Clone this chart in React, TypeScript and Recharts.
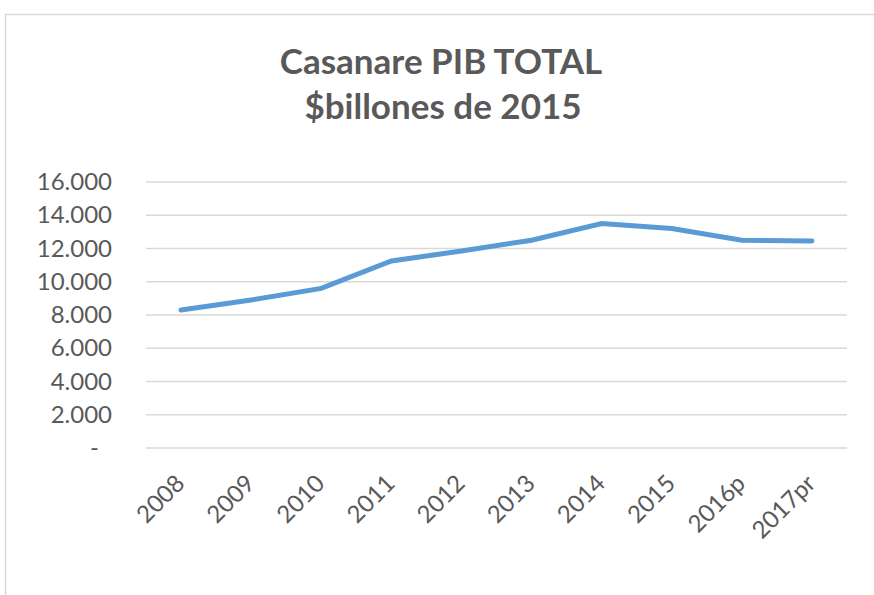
import React from "react";
import { LineChart, Line, XAxis, YAxis, CartesianGrid } from "recharts";

const categories = ["2008", "2009", "2010", "2011", "2012", "2013", "2014", "2015", "2016p", "2017pr"];
const pib = [8300, 8900, 9600, 11250, 11850, 12500, 13500, 13200, 12500, 12450];
const yTicks = [0, 2000, 4000, 6000, 8000, 10000, 12000, 14000, 16000];
const titleLines = ["Casanare PIB TOTAL", "$billones de 2015"];

const data = categories.map((c, i) => ({ year: c, value: pib[i] }));

const FONT = "Lato, 'Open Sans', sans-serif";
const TXT = "#595959";

const fmt = (v: number) => {
  if (v === 0) return "-";
  return String(v).replace(/\B(?=(\d{3})+(?!\d))/g, ".");
};

const YTick = (props: any) => {
  const { x, y, payload } = props;
  const isZero = payload.value === 0;
  return (
    <text x={isZero ? x - 13 : x} y={y} dy={8} textAnchor="end" fill={TXT} fontSize={24} fontFamily={FONT}>
      {fmt(payload.value)}
    </text>
  );
};

const XTick = (props: any) => {
  const { x, y, payload } = props;
  const bx = x + 5;
  const by = y + 37;
  return (
    <text x={bx} y={by} textAnchor="end" fill={TXT} fontSize={24} fontFamily={FONT} transform={`rotate(-45, ${bx}, ${by})`}>
      {payload.value}
    </text>
  );
};

export default function App() {
  return (
    <div style={{ position: "fixed", left: 0, top: 0, width: 874, height: 595, background: "#fff", overflow: "hidden" }}>
      <LineChart width={874} height={595} data={data} margin={{ top: 182, right: 27, bottom: 0, left: 0 }}>
        <path d="M5.5,600 V14.5 H880" fill="none" stroke="#d9d9d9" strokeWidth={1.5} />
        <text x={441} y={74} textAnchor="middle" fill={TXT} fontSize={35} fontWeight={700} fontFamily={FONT}>
          {titleLines[0]}
        </text>
        <text x={443} y={119} textAnchor="middle" fill={TXT} fontSize={35} fontWeight={700} fontFamily={FONT}>
          {titleLines[1]}
        </text>
        <CartesianGrid vertical={false} stroke="#d9d9d9" strokeWidth={1.5} />
        <XAxis dataKey="year" axisLine={false} tickLine={false} tickSize={0} tickMargin={0} interval={0} tick={<XTick />} height={147} padding={{ left: 35, right: 35 }} />
        <YAxis domain={[0, 16000]} ticks={yTicks} axisLine={false} tickLine={false} tickSize={0} tickMargin={34} width={146} tick={<YTick />} interval={0} />
        <Line type="linear" dataKey="value" stroke="#5B9BD5" strokeWidth={5} dot={false} isAnimationActive={false} strokeLinecap="round" />
      </LineChart>
    </div>
  );
}
